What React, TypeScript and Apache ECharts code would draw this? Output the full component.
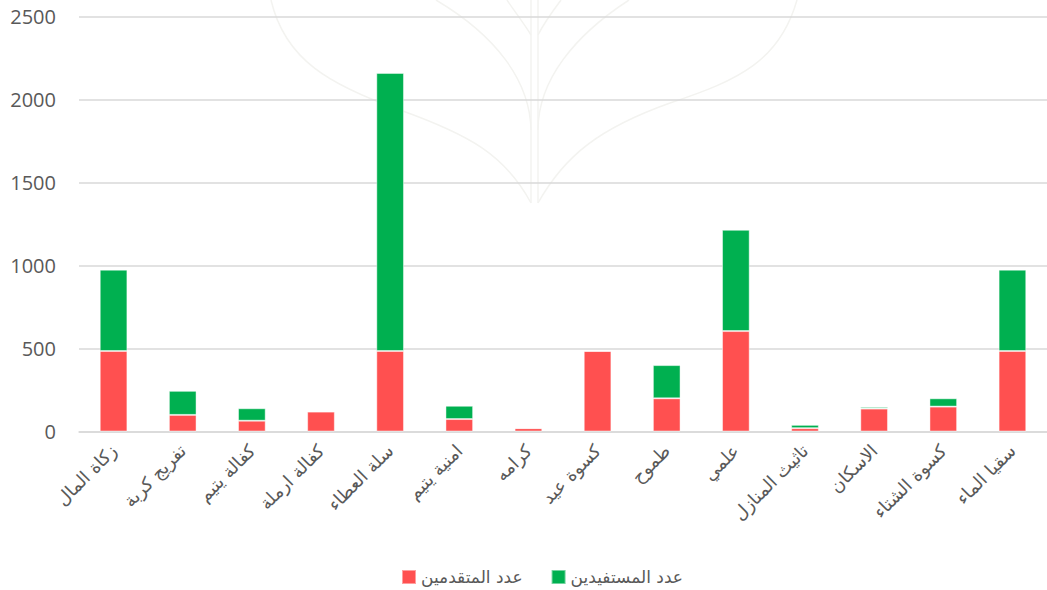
import React, { useEffect, useRef } from "react";
import * as echarts from "echarts";

const categories = [
  "زكاة المال",
  "تفريج كربة",
  "كفالة يتيم",
  "كفالة ارملة",
  "سلة العطاء",
  "امنية يتيم",
  "كرامه",
  "كسوة عيد",
  "طموح",
  "علمي",
  "تاثيث المنازل",
  "الاسكان",
  "كسوة الشتاء",
  "سقيا الماء",
];
const applicants = [485, 100, 65, 120, 485, 75, 20, 485, 200, 605, 20, 138, 150, 485];
const beneficiaries = [490, 145, 75, 0, 1675, 80, 0, 0, 200, 610, 20, 10, 50, 490];
const seriesNames = ["عدد المتقدمين", "عدد المستفيدين"];
const yTicks = { min: 0, max: 2500, interval: 500 };

const WM = "#f3f3f0";
const wmCurve = (pts: number[][]) => ({
  type: "bezierCurve",
  silent: true,
  z: -10,
  shape: {
    x1: pts[0][0], y1: pts[0][1],
    cpx1: pts[1][0], cpy1: pts[1][1],
    cpx2: pts[2][0], cpy2: pts[2][1],
    x2: pts[3][0], y2: pts[3][1],
  },
  style: { stroke: WM, lineWidth: 1.5, fill: null },
});

export default function App() {
  const ref = useRef<HTMLDivElement>(null);
  useEffect(() => {
    if (!ref.current) return;
    const chart = echarts.init(ref.current, null, { renderer: "svg" });
    chart.setOption({
      animation: false,
      backgroundColor: "#ffffff",
      grid: { left: 79, right: -7, top: 16.5, bottom: 158.5 },
      legend: {
        left: 401,
        top: 567,
        padding: 0,
        itemWidth: 14,
        itemHeight: 14,
        itemGap: 28,
        icon: "rect",
        textStyle: { color: "#595959", fontSize: 17, lineHeight: 20, fontFamily: "DejaVu Sans" },
        data: seriesNames,
      },
      xAxis: {
        type: "category",
        data: categories,
        axisLine: { lineStyle: { color: "#d9d9d9", width: 1.5 } },
        axisTick: { show: false },
        axisLabel: {
          rotate: 45,
          interval: 0,
          margin: 16,
          color: "#595959",
          fontSize: 18,
          fontFamily: "DejaVu Sans",
        },
      },
      yAxis: {
        type: "value",
        min: yTicks.min,
        max: yTicks.max,
        interval: yTicks.interval,
        axisLine: { show: false },
        axisTick: { show: false },
        splitLine: { lineStyle: { color: "#d9d9d9", width: 1.5 } },
        axisLabel: {
          color: "#595959",
          fontSize: 20,
          margin: 23,
          fontFamily: "Open Sans",
          formatter: (v: number) => String(v),
        },
      },
      graphic: [
        wmCurve([[271, 0], [285, 60], [330, 85], [400, 110]]),
        wmCurve([[400, 110], [470, 135], [505, 155], [531, 203]]),
        wmCurve([[797, 0], [780, 60], [740, 80], [670, 103]]),
        wmCurve([[670, 103], [600, 128], [565, 155], [538, 203]]),
        wmCurve([[436, 0], [495, 35], [530, 80], [531, 130]]),
        wmCurve([[629, 0], [575, 35], [538, 80], [538, 130]]),
        wmCurve([[507, 0], [515, 12], [525, 25], [531, 35]]),
        wmCurve([[561, 0], [552, 12], [543, 25], [538, 35]]),
        { type: "line", silent: true, z: -10, shape: { x1: 531, y1: 0, x2: 531, y2: 203 }, style: { stroke: WM, lineWidth: 1.5 } },
        { type: "line", silent: true, z: -10, shape: { x1: 538, y1: 0, x2: 538, y2: 203 }, style: { stroke: WM, lineWidth: 1.5 } },
      ],
      series: [
        {
          name: seriesNames[0],
          type: "bar",
          stack: "total",
          data: applicants,
          barCategoryGap: "60%",
          itemStyle: { color: "#FF5050", borderColor: "rgba(255,255,255,0.45)", borderWidth: 1 },
        },
        {
          name: seriesNames[1],
          type: "bar",
          stack: "total",
          data: beneficiaries,
          barCategoryGap: "60%",
          itemStyle: { color: "#00B050", borderColor: "rgba(255,255,255,0.45)", borderWidth: 1 },
        },
      ],
    });
    return () => chart.dispose();
  }, []);
  return (
    <div
      ref={ref}
      style={{ position: "fixed", left: 0, top: 0, width: "1047px", height: "590px" }}
    />
  );
}
